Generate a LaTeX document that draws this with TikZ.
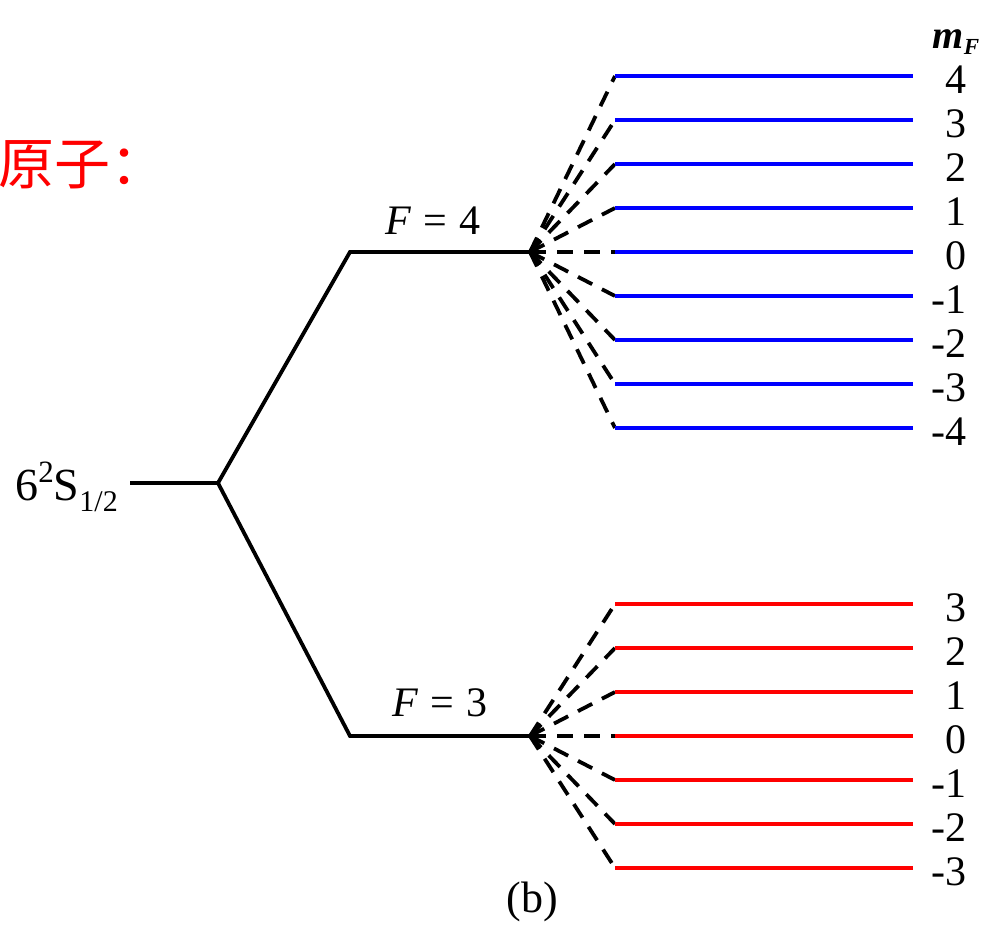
\documentclass[tikz,border=0pt]{standalone}
\usepackage{fontspec}
\setmainfont{Liberation Serif}
\newfontfamily\cjk{Noto Sans CJK SC}
\newcommand{\eqsp}{\hspace{0.28em}=\hspace{0.28em}}
\begin{document}
\begin{tikzpicture}[x=1pt,y=-1pt,
  lvl/.style={line width=3.8pt},
  fan/.style={line width=3.8pt,dash pattern=on 16pt off 11pt},
  num/.style={anchor=east,font=\fontsize{42}{42}\selectfont,inner sep=0pt},
  flab/.style={font=\fontsize{42}{42}\selectfont,inner sep=0pt}]
\useasboundingbox (0,0) rectangle (983,926);
% main levels
\coordinate (g0) at (130,483);
\coordinate (br) at (218,483);
\coordinate (u1) at (350,252);
\coordinate (u2) at (530,252);
\coordinate (l1) at (350,736);
\coordinate (l2) at (530,736);
\draw[lvl] (g0) -- (br) -- (u1) -- (u2);
\draw[lvl] (br) -- (l1) -- (l2);
\node[anchor=east,inner sep=0pt,font=\fontsize{46}{46}\selectfont] (gs) at (118,487)
  {6\raisebox{0.38em}{\fontsize{31}{31}\selectfont 2}S\raisebox{-0.25em}{\fontsize{30}{30}\selectfont 1/2}};
\node[flab] (f4) at (433,221) {\textit{F}\eqsp 4};
\node[flab] (f3) at (440,703) {\textit{F}\eqsp 3};
% F=4 sublevels
\foreach \m in {4,3,2,1,0,-1,-2,-3,-4}{
  \coordinate (a\m) at (615,252-44*\m);
  \coordinate (b\m) at (913,252-44*\m);
  \draw[fan] (u2) -- (a\m);
  \draw[lvl,blue] (a\m) -- (b\m);
  \node[num] (n4\m) at (967,256-44*\m) {\m};
}
% F=3 sublevels
\foreach \m in {3,2,1,0,-1,-2,-3}{
  \coordinate (c\m) at (615,736-44*\m);
  \coordinate (d\m) at (913,736-44*\m);
  \draw[fan] (l2) -- (c\m);
  \draw[lvl,red] (c\m) -- (d\m);
  \node[num] (n3\m) at (967,740-44*\m) {\m};
}
\node[inner sep=0pt,font=\fontsize{40}{40}\selectfont\bfseries] (mf) at (956,42)
  {\textit{m}\raisebox{-0.35ex}{\fontsize{23}{23}\selectfont\textit{F}}};
\node[anchor=west,inner sep=0pt,text=red,font=\fontsize{56}{56}\selectfont\cjk] (yz) at (-2,165) {原子：};
\node[inner sep=0pt,font=\fontsize{44}{44}\selectfont] (b) at (532,902) {(b)};
\end{tikzpicture}
\end{document}
